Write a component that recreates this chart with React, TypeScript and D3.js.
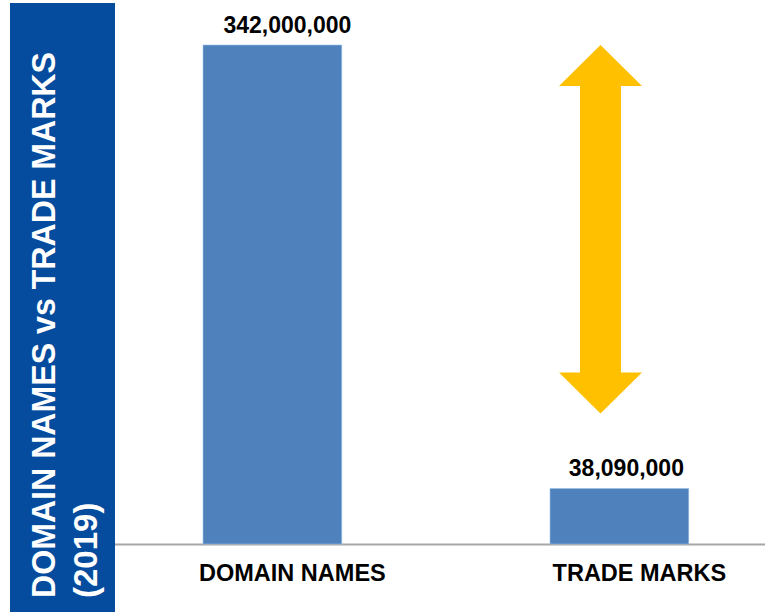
import React from "react";
import * as d3 from "d3";

const categories = ["DOMAIN NAMES", "TRADE MARKS"];
const values = [342000000, 38090000];
const valueLabels = ["342,000,000", "38,090,000"];
const titleLines = ["DOMAIN NAMES vs TRADE  MARKS", "(2019)"];

const W = 765;
const H = 612;

export default function App() {
  const x = d3.scaleBand<string>().domain(categories).range([98.9, 792.9]).paddingInner(0.6).paddingOuter(0.3);
  const y = d3.scaleLinear().domain([0, 342000000]).range([544, 45]);
  const font = "'Liberation Sans', Arial, Helvetica, sans-serif";

  // arrow annotation between the two values
  const ax = 600.5;
  const aTop = y(values[0]);
  const aBot = y(values[1]) - 75;
  const headH = 41;
  const headHalf = 41.5;
  const shaftHalf = 20.5;
  const arrowPath = [
    [ax, aTop],
    [ax + headHalf, aTop + headH],
    [ax + shaftHalf, aTop + headH],
    [ax + shaftHalf, aBot - headH],
    [ax + headHalf, aBot - headH],
    [ax, aBot],
    [ax - headHalf, aBot - headH],
    [ax - shaftHalf, aBot - headH],
    [ax - shaftHalf, aTop + headH],
    [ax - headHalf, aTop + headH],
  ];
  const line = d3.line();

  const labelOffsets = [15, 7];

  return (
    <svg width={W} height={H} style={{ position: "absolute", left: 0, top: 0, background: "#fff" }}>
      <rect x={10} y={3} width={105} height={H - 3} fill="#054c9e" />
      {titleLines.map((t, i) => (
        <text
          key={t}
          transform={`translate(${i === 0 ? 55 : 97},598) rotate(-90)`}
          fill="#fff"
          fontFamily={font}
          fontWeight="bold"
          fontSize={33}
          textLength={i === 0 ? 546 : undefined}
          lengthAdjust="spacingAndGlyphs"
        >
          {t}
        </text>
      ))}
      <line x1={115} x2={W} y1={544.5} y2={544.5} stroke="#a6a6a6" strokeWidth={2} />
      {categories.map((c, i) => (
        <g key={c}>
          <rect
            x={x(c)}
            y={y(values[i])}
            width={x.bandwidth()}
            height={y(0) - y(values[i])}
            fill="#4f81bd"
            stroke="#9dc3e6"
            strokeWidth={0.6}
          />
          <text
            x={(x(c) as number) + x.bandwidth() / 2 + labelOffsets[i]}
            y={y(values[i]) - 12}
            textAnchor="middle"
            fontFamily={font}
            fontWeight="bold"
            fontSize={23}
            fill="#000"
          >
            {valueLabels[i]}
          </text>
          <text
            x={(x(c) as number) + x.bandwidth() / 2 + 20}
            y={581}
            textAnchor="middle"
            fontFamily={font}
            fontWeight="bold"
            fontSize={23.5}
            fill="#000"
          >
            {c}
          </text>
        </g>
      ))}
      <path d={line(arrowPath as [number, number][]) + "Z"} fill="#ffc000" />
    </svg>
  );
}
